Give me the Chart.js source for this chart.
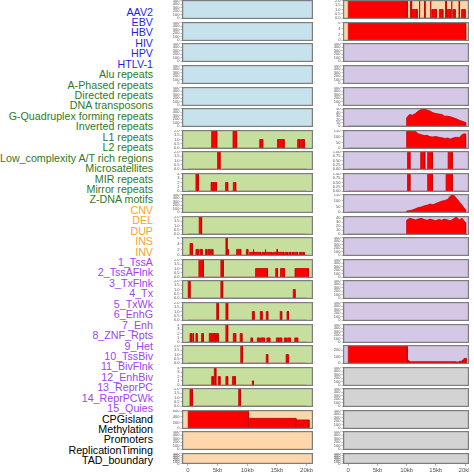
<!DOCTYPE html>
<html>
<head>
<meta charset="utf-8">
<script src="https://cdn.jsdelivr.net/npm/chart.js@4.4.0/dist/chart.umd.min.js"></script>
<style>
  html, body { margin: 0; padding: 0; background: #fff; width: 474px; height: 474px; overflow: hidden; }
  body { position: relative; font-family: "Liberation Sans", Arial, sans-serif; }
  canvas { position: absolute; }
  #labels { position: absolute; left: 0; top: 6.5px; width: 153px; text-align: right;
            font-size: 10.7px; line-height: 10.43px; white-space: nowrap; }
</style>
</head>
<body>
<div id="labels"></div>
<script>
// track names, in panel order (left column top to bottom, then right column)
const categories = ['AAV2', 'EBV', 'HBV', 'HIV', 'HPV', 'HTLV-1',
  'Alu repeats', 'A-Phased repeats', 'Directed repeats', 'DNA transposons',
  'G-Quadruplex forming repeats', 'Inverted repeats', 'L1 repeats', 'L2 repeats',
  'Low_complexity A/T rich regions', 'Microsatellites', 'MIR repeats', 'Mirror repeats',
  'Z-DNA motifs', 'CNV', 'DEL', 'DUP', 'INS', 'INV',
  '1_TssA', '2_TssAFlnk', '3_TxFlnk', '4_Tx', '5_TxWk', '6_EnhG', '7_Enh', '8_ZNF_Rpts',
  '9_Het', '10_TssBiv', '11_BivFlnk', '12_EnhBiv', '13_ReprPC', '14_ReprPCWk', '15_Quies',
  'CPGisland', 'Methylation', 'Promoters', 'ReplicationTiming', 'TAD_boundary'];
const groupCounts = [6, 13, 5, 15, 5];
const labelColors = ['#1f1fe3', '#2f7a1f', '#f7a51c', '#a043f0', '#000000'];
const panelColors = ['#c6e3ed', '#c6df9f', '#fdd6ab', '#d4c8e6', '#d3d3d3'];

// x axis (kb)
const xTicks = [0, 5, 10, 15, 20];
const xTickLabels = ['0', '5kb', '10kb', '15kb', '20kb'];

// y tick sets
const ticksEmpty = [0, 100, 200, 300, 400, 500];
const ticks1 = [0, 0.25, 0.5, 0.75, 1];
const ticks2 = [0, 0.5, 1, 1.5, 2];
const ticks4 = [0, 1, 2, 3, 4];
const ticks6 = [0, 2, 4, 6];
const ticks40 = [0, 10, 20, 30, 40];
const ticks50 = [0, 10, 20, 30, 40, 50];
const ticks150 = [0, 50, 100, 150];
const ticks200 = [0, 100, 200];
const ticks600 = [0, 200, 400, 600];

// block tracks: [start kb, end kb, value]
const aluRepeats = [[4.0, 4.85, 2], [7.6, 8.2, 2], [12.1, 12.6, 1], [15.1, 16.2, 1], [18.5, 18.9, 1], [19.1, 19.6, 1]];
const aPhased = [[5.0, 5.4, 2]];
const directedRepeats = [[1.35, 1.75, 4], [3.9, 4.3, 2], [4.4, 4.8, 2], [6.35, 6.7, 2], [7.65, 8.05, 2]];
const gQuadruplex = [[1.9, 2.3, 2]];
const invertedRepeats = [[0.35, 0.75, 4], [1.35, 1.75, 2], [2.0, 2.4, 2], [2.95, 3.2, 2], [3.4, 3.7, 2],
  [3.85, 4.2, 2], [6.4, 6.6, 6], [6.6, 6.8, 2], [8.2, 8.9, 2], [9.85, 10.1, 2], [10.4, 11.0, 1],
  [11.0, 11.1, 2], [11.1, 12.3, 1], [12.5, 12.9, 1], [13.0, 13.1, 2], [13.1, 14.2, 1], [14.4, 14.9, 1],
  [15.0, 15.1, 2], [15.1, 16.2, 1], [16.4, 16.8, 1], [17.0, 17.3, 1], [17.5, 17.9, 1], [18.1, 18.5, 1],
  [18.8, 19.1, 1], [19.3, 19.6, 1]];
const l1Repeats = [[1.85, 2.6, 2], [5.55, 5.95, 2], [11.4, 13.4, 1], [14.8, 15.1, 1], [15.6, 16.25, 1], [18.05, 20.3, 1]];
const l2Repeats = [[0.05, 0.35, 2], [5.55, 5.85, 2], [17.75, 18.05, 1]];
const lowComplexity = [[4.85, 5.1, 2], [6.4, 6.7, 2], [10.85, 11.15, 1], [12.2, 12.5, 1], [13.2, 13.45, 1], [15.55, 15.8, 1], [16.7, 16.95, 1]];
const microsatellites = [[0.35, 0.6, 2], [0.8, 0.95, 2], [1.35, 1.55, 2], [2.3, 2.6, 2], [3.6, 3.9, 2],
  [4.0, 4.3, 2], [4.4, 4.7, 2], [4.8, 5.1, 2], [6.4, 6.7, 4], [7.65, 8.05, 2], [8.8, 9.1, 2],
  [10.6, 10.85, 1], [11.7, 12.0, 1], [12.2, 12.9, 1], [13.3, 13.8, 1], [14.9, 15.3, 1], [15.4, 15.8, 1],
  [16.25, 16.6, 1], [16.8, 17.25, 1], [18.0, 18.5, 1]];
const mirRepeats = [[8.9, 9.2, 2], [13.2, 13.45, 1], [16.55, 16.9, 1]];
const mirrorRepeats = [[4.0, 4.3, 2], [4.45, 4.7, 4], [5.1, 5.4, 2], [6.4, 6.7, 2], [7.5, 8.0, 2], [10.85, 11.05, 1]];
const zDna = [[0.35, 0.75, 2], [8.55, 8.85, 2]];
const cnv = [[0.05, 10.2, 620], [10.2, 18.2, 350], [18.2, 20.4, 295]];
const ins = [[0, 10.1, 2], [10.65, 10.75, 2], [10.9, 11.8, 1], [12.15, 12.25, 2], [13.05, 13.15, 2],
  [14.05, 14.15, 2], [14.3, 15.1, 1], [15.6, 16.2, 1], [16.65, 16.75, 2], [16.85, 17.5, 1],
  [17.65, 17.75, 2], [17.9, 18.3, 1], [18.95, 19.05, 2], [19.4, 20.0, 1]];
const inv = [[0, 20.1, 6]];
const enhG = [[10.15, 10.55, 1], [12.4, 13.1, 1], [13.6, 14.4, 1], [17.1, 17.8, 1]];
const enh = [[10.15, 10.55, 1], [13.6, 14.4, 1], [16.75, 17.8, 1]];
const quies = [[0, 10.1, 270], [10.1, 10.4, 40], [10.4, 18.3, 25], [18.3, 19.0, 20], [19.0, 19.5, 30],
  [19.5, 19.8, 50], [19.8, 20.2, 75]];

// profile tracks: [kb, value]
const tx4 = [[9.9, 0], [10.0, 25], [10.5, 35], [11.0, 33], [11.5, 38], [12.0, 45], [12.5, 50], [13.0, 52],
  [13.5, 48], [14.0, 45], [14.5, 40], [15.0, 38], [15.5, 36], [16.0, 35], [16.5, 30], [17.0, 30],
  [17.5, 28], [18.0, 25], [18.5, 22], [19.0, 18], [19.5, 15], [20.0, 12], [20.1, 0]];
const txWk5 = [[9.9, 0], [10.0, 150], [10.5, 152], [11.0, 148], [11.5, 145], [12.0, 125], [12.5, 118],
  [13.0, 110], [13.5, 112], [14.0, 100], [14.5, 98], [15.0, 102], [15.5, 95], [16.0, 92], [16.5, 85],
  [17.0, 88], [17.5, 80], [18.0, 90], [18.5, 95], [19.0, 92], [19.5, 120], [20.0, 125], [20.1, 0]];
const znfRpts8 = [[9.9, 0], [10.0, 10], [10.5, 15], [11.0, 20], [11.5, 30], [12.0, 40], [12.5, 45],
  [13.0, 55], [13.5, 60], [14.0, 70], [14.5, 65], [15.0, 75], [15.5, 85], [16.0, 95], [16.5, 100],
  [17.0, 110], [17.5, 140], [18.0, 150], [18.5, 120], [19.0, 90], [19.5, 60], [20.0, 25], [20.1, 0]];
const het9 = [[9.9, 0], [10.0, 35], [10.5, 40], [11.0, 38], [11.5, 36], [12.0, 38], [12.5, 40], [13.0, 37],
  [13.5, 35], [14.0, 38], [14.5, 36], [15.0, 34], [15.5, 37], [16.0, 35], [16.5, 38], [17.0, 36],
  [17.5, 34], [18.0, 38], [18.5, 44], [19.0, 36], [19.5, 40], [20.0, 30], [20.1, 0]];

const blockTracks = {
  'Alu repeats': aluRepeats, 'A-Phased repeats': aPhased, 'Directed repeats': directedRepeats,
  'G-Quadruplex forming repeats': gQuadruplex, 'Inverted repeats': invertedRepeats,
  'L1 repeats': l1Repeats, 'L2 repeats': l2Repeats, 'Low_complexity A/T rich regions': lowComplexity,
  'Microsatellites': microsatellites, 'MIR repeats': mirRepeats, 'Mirror repeats': mirrorRepeats,
  'Z-DNA motifs': zDna, 'CNV': cnv, 'INS': ins, 'INV': inv, '6_EnhG': enhG, '7_Enh': enh, '15_Quies': quies
};
const profileTracks = { '4_Tx': tx4, '5_TxWk': txWk5, '8_ZNF_Rpts': znfRpts8, '9_Het': het9 };
const yTicks = {
  'Alu repeats': ticks2, 'A-Phased repeats': ticks2, 'Directed repeats': ticks4,
  'G-Quadruplex forming repeats': ticks2, 'Inverted repeats': ticks6, 'L1 repeats': ticks2,
  'L2 repeats': ticks2, 'Low_complexity A/T rich regions': ticks2, 'Microsatellites': ticks4,
  'MIR repeats': ticks2, 'Mirror repeats': ticks4, 'Z-DNA motifs': ticks2, 'CNV': ticks600,
  'INS': ticks2, 'INV': ticks6, '4_Tx': ticks50, '5_TxWk': ticks150, '6_EnhG': ticks1, '7_Enh': ticks1,
  '8_ZNF_Rpts': ticks150, '9_Het': ticks40, '15_Quies': ticks200
};

// layout
const rowsPerCol = 22;
const rowTop0 = 0.3, rowStep = 21.55, panelH = 19, lastPanelH = 11, xAxisH = 11, yAxisW = 17;
const colLeft = [165, 326], colWidth = [148, 143];
const xRange = [[-1.0, 21.08], [-0.9, 20.67]];
const trackEnd = 20;
const fontFam = '"Liberation Sans", Arial, sans-serif';

// left-hand labels
const groupOf = [];
groupCounts.forEach((n, g) => { for (let k = 0; k < n; k++) groupOf.push(g); });
const labelBox = document.getElementById('labels');
categories.forEach((name, i) => {
  const d = document.createElement('div');
  d.textContent = name;
  d.style.color = labelColors[groupOf[i]];
  labelBox.appendChild(d);
});

function trackPoints(name) {
  if (blockTracks[name]) {
    const pts = [{x: 0, y: 0}];
    blockTracks[name].forEach(([s, e, v]) => {
      pts.push({x: s, y: 0}, {x: s, y: v}, {x: e, y: v}, {x: e, y: 0});
    });
    if (pts[pts.length - 1].x < trackEnd) pts.push({x: trackEnd, y: 0});
    return pts;
  }
  if (profileTracks[name]) {
    const pts = [{x: 0, y: 0}];
    profileTracks[name].forEach(([x, y]) => pts.push({x, y}));
    return pts;
  }
  return null;
}

const panelBox = {
  id: 'panelBox',
  beforeDatasetsDraw(chart, args, opts) {
    const a = chart.chartArea, ctx = chart.ctx;
    ctx.save();
    ctx.fillStyle = opts.bg;
    ctx.fillRect(a.left, a.top, a.right - a.left, a.bottom - a.top);
    ctx.restore();
  },
  afterDatasetsDraw(chart) {
    const a = chart.chartArea, ctx = chart.ctx;
    ctx.save();
    ctx.strokeStyle = '#7d7d7d';
    ctx.lineWidth = 1.2;
    ctx.strokeRect(a.left + 0.6, a.top + 0.6, a.right - a.left - 1.2, a.bottom - a.top - 1.2);
    ctx.restore();
  }
};

categories.forEach((name, i) => {
  const col = i < rowsPerCol ? 0 : 1;
  const row = i % rowsPerCol;
  const last = row === rowsPerCol - 1;
  const pts = trackPoints(name);
  const ticks = yTicks[name] || ticksEmpty;
  const dec = ticks.some(v => (v * 10) % 1) ? 2 : (ticks.some(v => v % 1) ? 1 : 0);
  const top = pts ? Math.max(...pts.map(p => p.y)) : ticks[ticks.length - 1];

  const cv = document.createElement('canvas');
  const h = last ? lastPanelH + xAxisH : panelH;
  cv.width = colWidth[col];
  cv.height = h;
  cv.style.left = colLeft[col] + 'px';
  cv.style.top = Math.round(rowTop0 + row * rowStep) + 'px';
  cv.style.width = colWidth[col] + 'px';
  cv.style.height = h + 'px';
  document.body.appendChild(cv);

  new Chart(cv, {
    type: 'line',
    data: {
      datasets: pts ? [{
        data: pts,
        fill: 'origin',
        backgroundColor: '#ff0000',
        borderColor: '#c80000',
        borderWidth: 0.8,
        pointRadius: 0,
        tension: 0
      }] : []
    },
    options: {
      responsive: false,
      animation: false,
      devicePixelRatio: 1,
      layout: { padding: 0 },
      events: [],
      plugins: {
        legend: { display: false },
        tooltip: { enabled: false },
        panelBox: { bg: panelColors[groupOf[i]] }
      },
      scales: {
        x: {
          type: 'linear',
          min: xRange[col][0],
          max: xRange[col][1],
          display: last,
          afterBuildTicks: s => { s.ticks = xTicks.map(v => ({ value: v })); },
          afterFit: s => {
            s.height = last ? xAxisH : 0;
            s.paddingLeft = 0; s.paddingRight = 0;
          },
          grid: { drawOnChartArea: false, drawTicks: true, tickLength: 2, color: '#777', lineWidth: 0.6 },
          border: { display: false },
          ticks: {
            font: { size: 6, family: fontFam }, color: '#555', padding: 1,
            maxRotation: 0, autoSkip: false,
            callback: v => xTickLabels[xTicks.indexOf(v)]
          }
        },
        y: {
          type: 'linear',
          min: -0.04 * top,
          max: 1.04 * top,
          afterBuildTicks: s => { s.ticks = ticks.map(v => ({ value: v })); },
          afterFit: s => { s.width = yAxisW; s.paddingTop = 0; s.paddingBottom = 0; },
          grid: { drawOnChartArea: false, drawTicks: true, tickLength: 1.5, color: '#777', lineWidth: 0.5 },
          border: { display: false },
          ticks: {
            font: { size: 4, family: fontFam }, color: '#555', padding: 1, autoSkip: false,
            callback: v => v.toFixed(dec)
          }
        }
      }
    },
    plugins: [panelBox]
  });
});
</script>
</body>
</html>
